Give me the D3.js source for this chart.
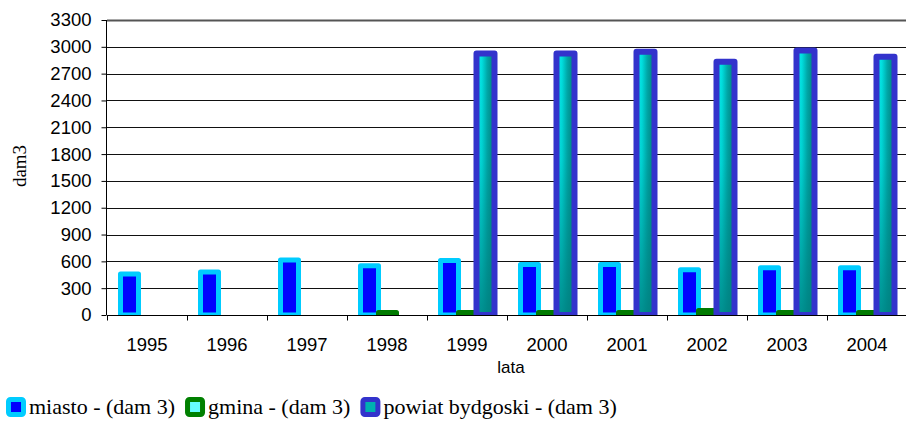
<!DOCTYPE html>
<html>
<head>
<meta charset="utf-8">
<script src="https://cdn.jsdelivr.net/npm/d3@7"></script>
<style>
  html, body { margin: 0; padding: 0; background: #fff; }
  svg { display: block; }
</style>
</head>
<body>
<svg id="chart" width="906" height="421"></svg>
<script>
// Water use per year, in dam3
const years = ["1995", "1996", "1997", "1998", "1999", "2000", "2001", "2002", "2003", "2004"];
const miasto = [460, 480, 615, 550, 610, 565, 565, 506, 528, 528];
const gmina = [null, null, null, 28, 28, 28, 28, 50, 28, 28];
const powiat = [null, null, null, null, 2925, 2925, 2944, 2832, 2960, 2888];
const yTicks = [0, 300, 600, 900, 1200, 1500, 1800, 2100, 2400, 2700, 3000, 3300];
const seriesNames = ["miasto - (dam 3)", "gmina - (dam 3)", "powiat bydgoski - (dam 3)"];
const seriesKeys = ["miasto", "gmina", "powiat"];

const SANS = "'Liberation Sans', Arial, sans-serif";
const SERIF = "'Liberation Serif', 'Times New Roman', serif";

const svg = d3.select("#chart");
const plot = { left: 107, right: 907, top: 20, bottom: 315 };

const x0 = d3.scaleBand().domain(years).range([plot.left, plot.right]).paddingInner(0).paddingOuter(0);
const x1 = d3.scaleBand().domain(seriesKeys).range([13.5, 67.5]);
const y = d3.scaleLinear().domain([0, 3300]).range([plot.bottom, plot.top]);

const defs = svg.append("defs");
defs.append("clipPath").attr("id", "plotClip")
  .append("rect").attr("x", plot.left).attr("y", 0)
  .attr("width", plot.right - plot.left).attr("height", plot.bottom);

// horizontal sheen for the district bars
const hg = defs.append("linearGradient").attr("id", "powiatH")
  .attr("x1", 0).attr("y1", 0).attr("x2", 1).attr("y2", 0);
[[0, "#10eeee"], [0.3, "#00e0e0"], [0.6, "#00a8a8"], [1, "#007a7a"]]
  .forEach(([o, c]) => hg.append("stop").attr("offset", o).attr("stop-color", c));
// darkening towards the base
const vg = defs.append("linearGradient").attr("id", "powiatV")
  .attr("x1", 0).attr("y1", 0).attr("x2", 0).attr("y2", 1);
[[0, 0], [0.4, 0.15], [1, 0.85]]
  .forEach(([o, a]) => vg.append("stop").attr("offset", o).attr("stop-color", "#008080").attr("stop-opacity", a));

// gridlines
svg.append("g").selectAll("line").data(yTicks.filter(d => d > 0)).join("line")
  .attr("x1", plot.left).attr("x2", plot.right)
  .attr("y1", d => Math.round(y(d)) + 0.5).attr("y2", d => Math.round(y(d)) + 0.5)
  .attr("stroke", d => d === 3300 ? "#555" : "#111")
  .attr("stroke-width", d => d === 3300 ? 2 : 1);

const bars = svg.append("g").attr("clip-path", "url(#plotClip)");

function drawSeries(values, key, fill, stroke, sw) {
  const data = years.map((yr, i) => ({ yr, v: values[i] })).filter(d => d.v != null);
  const g = bars.append("g");
  const place = sel => sel
    .attr("x", d => x0(d.yr) + x1(key))
    .attr("width", x1.bandwidth())
    .attr("y", d => y(d.v))
    .attr("height", d => y(0) - y(d.v));
  g.selectAll("rect.b").data(data).join("rect").attr("class", "b").call(place).attr("fill", fill);
  if (key === "powiat") {
    g.selectAll("rect.o").data(data).join("rect").attr("class", "o").call(place).attr("fill", "url(#powiatV)");
  }
  g.selectAll("rect.s").data(data).join("rect").attr("class", "s").call(place)
    .attr("fill", "none")
    .attr("stroke", stroke).attr("stroke-width", sw)
    .attr("stroke-linejoin", "round");
}
drawSeries(miasto, "miasto", "#0000ff", "#00ccff", 5);
drawSeries(gmina, "gmina", "#66ffff", "#007a00", 5);
drawSeries(powiat, "powiat", "url(#powiatH)", "#3333cc", 6);

// axes
const yAxis = d3.axisLeft(y).tickValues(yTicks).tickSize(5).tickPadding(10).tickFormat(d3.format("d"));
const gy = svg.append("g").attr("transform", `translate(${plot.left - 0.5},0)`).call(yAxis);
gy.select(".domain").attr("d", `M0,${plot.top}V${plot.bottom}`).attr("stroke", "#000");
gy.selectAll(".tick line").attr("stroke", "#000");
gy.selectAll("text").style("font-family", SANS).style("font-size", "18.5px").attr("fill", "#000");

const xAxis = d3.axisBottom(x0).tickSize(0).tickPadding(22);
const gx = svg.append("g").attr("transform", `translate(0,${plot.bottom + 0.5})`).call(xAxis);
gx.select(".domain").attr("d", `M${plot.left},0H${plot.right}`).attr("stroke", "#000");
gx.selectAll("text").style("font-family", SANS).style("font-size", "18.5px").attr("fill", "#000");
// tick marks at category boundaries
gx.append("g").selectAll("line").data(years).join("line")
  .attr("x1", d => Math.round(x0(d)) + 0.5).attr("x2", d => Math.round(x0(d)) + 0.5)
  .attr("y1", 0).attr("y2", 5).attr("stroke", "#000");

// axis titles
svg.append("text").attr("x", 511).attr("y", 373).attr("text-anchor", "middle")
  .style("font-family", SANS).style("font-size", "17px").text("lata");
svg.append("text").attr("transform", "translate(26,166) rotate(-90)")
  .attr("text-anchor", "middle").style("font-family", SERIF).style("font-size", "19px").text("dam3");

// legend
const legend = svg.append("g");
const swatch = [
  { fill: "#0000ff", stroke: "#00ccff" },
  { fill: "#66ffff", stroke: "#008000" },
  { fill: "#00b0b0", stroke: "#3333cc" }
];
let lx = 6;
seriesNames.forEach((name, i) => {
  legend.append("rect").attr("x", lx + 2.5).attr("y", 399.5).attr("width", 15).attr("height", 15)
    .attr("rx", 2).attr("fill", swatch[i].fill).attr("stroke", swatch[i].stroke).attr("stroke-width", 5);
  const t = legend.append("text").attr("x", lx + 23).attr("y", 414)
    .style("font-family", SERIF).style("font-size", "22px").text(name);
  lx += 23 + t.node().getComputedTextLength() + 10;
});
</script>
</body>
</html>
